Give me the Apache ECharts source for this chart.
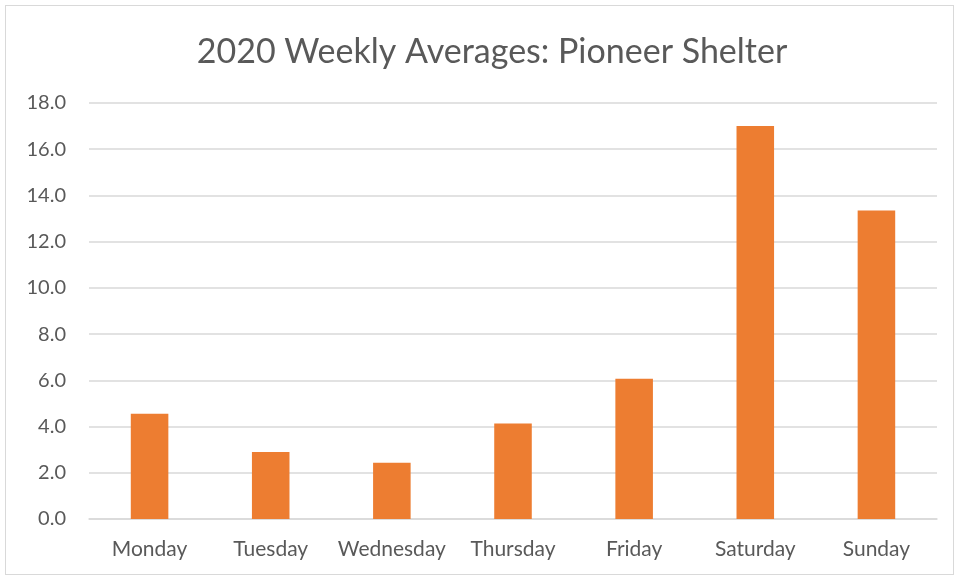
<!DOCTYPE html>
<html>
<head>
<meta charset="utf-8">
<script src="https://cdn.jsdelivr.net/npm/echarts@6/dist/echarts.min.js"></script>
<style>
  html, body { margin: 0; padding: 0; background: #fff; }
  #frame { position: absolute; left: 5px; top: 5px; width: 949px; height: 570px; border: 1px solid #d9d9d9; box-sizing: border-box; }
  #main { position: absolute; left: 0; top: 0; width: 957px; height: 578px; }
</style>
</head>
<body>
<div id="frame"></div>
<div id="main"></div>
<script>
  // data
  var days = ["Monday", "Tuesday", "Wednesday", "Thursday", "Friday", "Saturday", "Sunday"];
  var averages = [4.55, 2.9, 2.43, 4.13, 6.07, 17.0, 13.35];
  var yTicks = [0, 2, 4, 6, 8, 10, 12, 14, 16, 18];

  var myChart = echarts.init(document.getElementById("main"));

  myChart.setOption({
    animation: false,
    title: {
      text: "2020 Weekly Averages: Pioneer Shelter",
      left: 487,
      textAlign: "center",
      top: 30,
      textStyle: {
        fontFamily: "Lato",
        fontWeight: "normal",
        fontSize: 34,
        color: "#595959"
      }
    },
    grid: { left: 89, right: 20, top: 103, bottom: 59 },
    xAxis: {
      type: "category",
      data: days,
      axisTick: { show: false },
      axisLine: { lineStyle: { color: "#d9d9d9", width: 1.5 } },
      axisLabel: {
        interval: 0,
        margin: 20,
        fontFamily: "Lato",
        fontSize: 21,
        color: "#595959"
      }
    },
    yAxis: {
      type: "value",
      min: yTicks[0],
      max: yTicks[yTicks.length - 1],
      interval: 2,
      axisLine: { show: false },
      axisTick: { show: false },
      splitLine: { lineStyle: { color: "#d9d9d9", width: 1.5 } },
      axisLabel: {
        margin: 23,
        fontFamily: "Lato",
        fontSize: 20,
        color: "#595959",
        formatter: function (v) { return v.toFixed(1); }
      }
    },
    series: [
      {
        type: "bar",
        data: averages,
        barWidth: "31%",
        itemStyle: { color: "#ED7D31" }
      }
    ]
  });
</script>
</body>
</html>
